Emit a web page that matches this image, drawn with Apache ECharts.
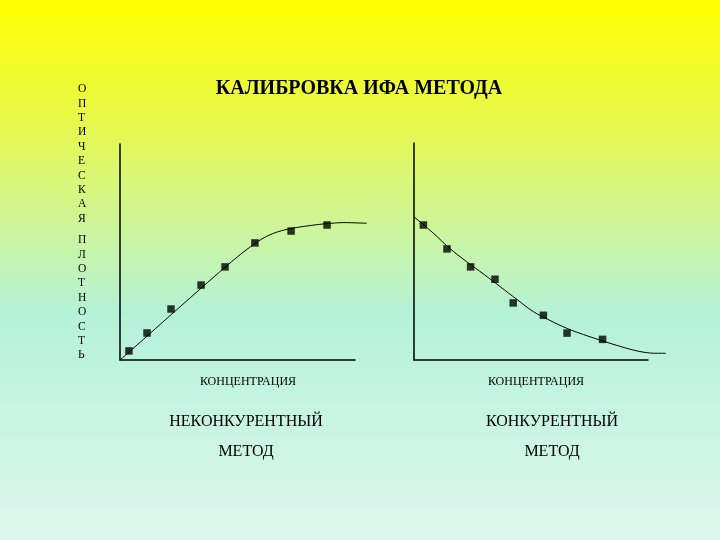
<!DOCTYPE html>
<html>
<head>
<meta charset="utf-8">
<script src="https://cdn.jsdelivr.net/npm/echarts@6/dist/echarts.min.js"></script>
<style>
html,body{margin:0;padding:0;width:720px;height:540px;overflow:hidden;}
#chart{width:720px;height:540px;}
</style>
</head>
<body>
<div id="chart"></div>
<script>
// Left chart: non-competitive method (points and fitted curve)
const leftPointsX = [0.38, 1.15, 2.17, 3.45, 4.47, 5.74, 7.28, 8.81];
const leftPointsY = [0.42, 1.25, 2.36, 3.47, 4.31, 5.42, 5.97, 6.25];
const leftCurveX = [0, 1, 2, 3, 4, 4.5, 5, 5.5, 6, 6.5, 7, 7.5, 8, 8.5, 9, 9.5, 10, 10.5];
const leftCurveY = [0, 0.96, 1.93, 2.89, 3.85, 4.32, 4.78, 5.2, 5.58, 5.85, 6.02, 6.13, 6.21, 6.28, 6.33, 6.36, 6.35, 6.33];

// Right chart: competitive method
const rightPointsX = [0.40, 1.41, 2.42, 3.46, 4.24, 5.53, 6.54, 8.06];
const rightPointsY = [6.22, 5.12, 4.29, 3.72, 2.63, 2.06, 1.24, 0.95];
const rightCurveX = [0, 0.83, 1.5, 2.25, 3, 3.68, 4.4, 5.1, 5.8, 6.53, 7.25, 7.95, 8.65, 9.37, 9.94, 10.4, 10.76];
const rightCurveY = [6.6, 5.84, 5.17, 4.53, 3.94, 3.38, 2.79, 2.23, 1.83, 1.46, 1.17, 0.92, 0.68, 0.46, 0.34, 0.31, 0.31];

const titleText = 'КАЛИБРОВКА ИФА МЕТОДА';
const yAxisWord1 = 'ОПТИЧЕСКАЯ';
const yAxisWord2 = 'ПЛОТНОСТЬ';
const xAxisName = 'КОНЦЕНТРАЦИЯ';
const leftMethod = ['НЕКОНКУРЕНТНЫЙ', 'МЕТОД'];
const rightMethod = ['КОНКУРЕНТНЫЙ', 'МЕТОД'];

const zip = (xs, ys) => xs.map((x, i) => [x, ys[i]]);
const serif = '"Liberation Serif", "DejaVu Serif", serif';

function axis(gridIndex, max, showLine) {
  return {
    type: 'value', gridIndex, min: 0, max: max,
    axisLine: { show: showLine, onZero: false, lineStyle: { color: '#000', width: 1.5 } },
    axisTick: { show: false }, axisLabel: { show: false }, splitLine: { show: false }
  };
}

function vertText(word, top) {
  return {
    type: 'text', left: 78, top: top,
    style: {
      text: word.split('').join('\n'),
      font: '11.5px ' + serif, fill: '#000', lineHeight: 14.4, align: 'left'
    }
  };
}

function centerText(text, cx, cy, size, weight) {
  return {
    type: 'text', x: cx, y: cy,
    style: {
      text: text, font: (weight || 'normal') + ' ' + size + 'px ' + serif,
      fill: '#000', textAlign: 'center', textVerticalAlign: 'middle'
    }
  };
}

const chart = echarts.init(document.getElementById('chart'));
chart.setOption({
  animation: false,
  backgroundColor: {
    type: 'linear', x: 0, y: 0, x2: 0, y2: 1,
    colorStops: [
      { offset: 0, color: '#ffff00' },
      { offset: 0.22, color: '#e8f948' },
      { offset: 0.42, color: '#cdf59a' },
      { offset: 0.58, color: '#b4f2d8' },
      { offset: 1, color: '#def7ec' }
    ]
  },
  grid: [
    // data grids (x extends past the drawn axis line, as the curves do)
    { left: 120, top: 144, width: 258.5, height: 216 },
    { left: 414, top: 143, width: 257.4, height: 217 },
    // axis-line-only grids
    { left: 120, top: 144, width: 235, height: 216 },
    { left: 414, top: 143, width: 234, height: 217 }
  ],
  xAxis: [axis(0, 11, false), axis(1, 11, false), axis(2, 10, true), axis(3, 10, true)],
  yAxis: [axis(0, 10, true), axis(1, 10, true), axis(2, 10, false), axis(3, 10, false)],
  series: [
    {
      type: 'line', xAxisIndex: 0, yAxisIndex: 0, data: zip(leftCurveX, leftCurveY),
      smooth: 0.4, showSymbol: false,
      lineStyle: { color: '#000', width: 1 }
    },
    {
      type: 'scatter', xAxisIndex: 0, yAxisIndex: 0, data: zip(leftPointsX, leftPointsY),
      symbol: 'rect', symbolSize: 7.5, itemStyle: { color: '#000' }
    },
    {
      type: 'line', xAxisIndex: 1, yAxisIndex: 1, data: zip(rightCurveX, rightCurveY),
      smooth: 0.4, showSymbol: false,
      lineStyle: { color: '#000', width: 1 }
    },
    {
      type: 'scatter', xAxisIndex: 1, yAxisIndex: 1, data: zip(rightPointsX, rightPointsY),
      symbol: 'rect', symbolSize: 7.5, itemStyle: { color: '#000' }
    }
  ],
  graphic: [
    centerText(titleText, 359, 89, 20, 'bold'),
    vertText(yAxisWord1, 82),
    vertText(yAxisWord2, 233),
    centerText(xAxisName, 248, 382, 12),
    centerText(xAxisName, 536, 382, 12),
    centerText(leftMethod[0], 246, 422, 16),
    centerText(leftMethod[1], 246, 452, 16),
    centerText(rightMethod[0], 552, 422, 16),
    centerText(rightMethod[1], 552, 452, 16)
  ]
});
</script>
</body>
</html>
